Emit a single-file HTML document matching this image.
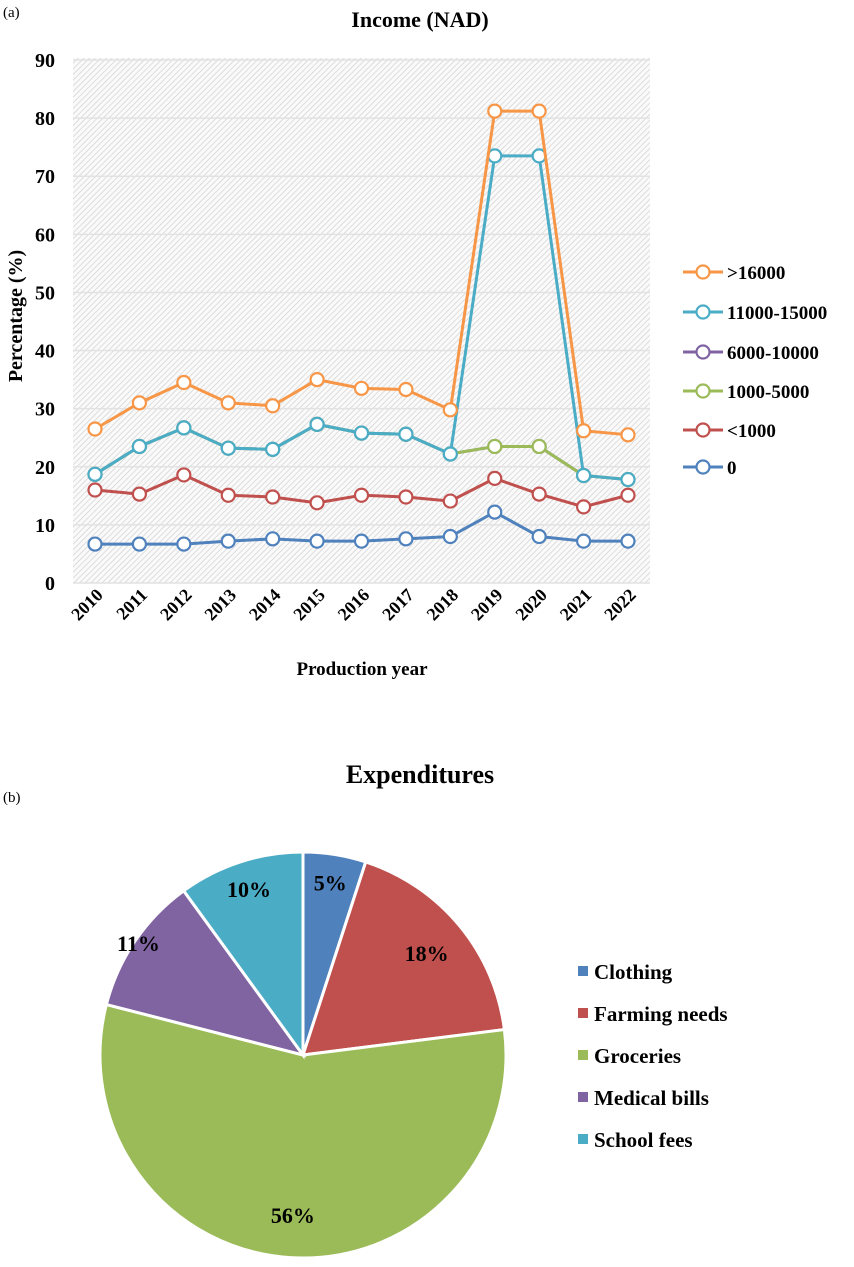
<!DOCTYPE html>
<html><head><meta charset="utf-8"><style>
body{margin:0;background:#fff;width:854px;height:1262px;overflow:hidden}
svg text{font-family:"Liberation Serif",serif;font-weight:bold;fill:#000}
</style></head><body>
<svg id="s" width="854" height="1262" xmlns="http://www.w3.org/2000/svg">
<defs><pattern id="hatch" width="4" height="4" patternUnits="userSpaceOnUse" patternTransform="rotate(45)"><rect width="4" height="4" fill="#fafafa"/><line x1="0" y1="0" x2="0" y2="4" stroke="#d0d0d0" stroke-width="1.4"/></pattern></defs>
<text x="3" y="17" font-size="15" style="font-weight:normal">(a)</text>
<text x="420" y="27" font-size="22" text-anchor="middle">Income (NAD)</text>
<rect x="73" y="58" width="577" height="525" fill="url(#hatch)"/>
<g id="grid"></g><g id="lines"></g><g id="xl"></g>
<text transform="translate(22,316) rotate(-90)" font-size="20" text-anchor="middle">Percentage (%)</text>
<text x="362" y="675" font-size="19" text-anchor="middle">Production year</text>
<g id="leg"></g>
<text x="3" y="802" font-size="15" style="font-weight:normal">(b)</text>
<text x="420" y="783" font-size="26" text-anchor="middle">Expenditures</text>
<g id="pie"></g><g id="pleg"></g>
</svg>
<script>
const years=["2010","2011","2012","2013","2014","2015","2016","2017","2018","2019","2020","2021","2022"];
const yTicks=[0,10,20,30,40,50,60,70,80,90];
const seriesNames=[">16000","11000-15000","6000-10000","1000-5000","<1000","0"];
const seriesColors=["#f79646","#4bacc6","#8064a2","#9bbb59","#c0504d","#4f81bd"];
const sGt16000=[26.5,31,34.5,31,30.5,35,33.5,33.3,29.8,81.2,81.2,26.2,25.5];
const s11000=[18.7,23.5,26.7,23.2,23,27.3,25.8,25.6,22.2,73.5,73.5,18.5,17.8];
const s6000=[18.7,23.5,26.7,23.2,23,27.3,25.8,25.6,22.2,23.5,23.5,18.5,17.8];
const s1000=[18.7,23.5,26.7,23.2,23,27.3,25.8,25.6,22.2,23.5,23.5,18.5,17.8];
const sLt1000=[16,15.3,18.6,15.1,14.8,13.8,15.1,14.8,14.1,18,15.3,13.1,15.1];
const sZero=[6.7,6.7,6.7,7.2,7.6,7.2,7.2,7.6,8,12.2,8,7.2,7.2];
const pieLabels=["Clothing","Farming needs","Groceries","Medical bills","School fees"];
const pieValues=[5,18,56,11,10];
const pieColors=["#4f81bd","#c0504d","#9bbb59","#8064a2","#4bacc6"];
const NS="http://www.w3.org/2000/svg";
function mk(t,a,p){const e=document.createElementNS(NS,t);for(const k in a)e.setAttribute(k,a[k]);p.appendChild(e);return e;}
const X=i=>95+i*(628-95)/(years.length-1);
const Y=v=>583-v*(583-60)/90;
const grid=document.getElementById('grid');
yTicks.forEach(t=>{
 const l=mk('line',{x1:73,x2:650,y1:Y(t),y2:Y(t),stroke:'#e2e2e2','stroke-width':1.5},grid);
 
 
 const tx=mk('text',{x:55,y:Y(t)+7,'font-size':20,'text-anchor':'end'},grid);tx.textContent=t;
 
 
});
const xl=document.getElementById('xl');
years.forEach((y,i)=>{
 const tx=mk('text',{transform:`translate(${X(i)+9},${596}) rotate(-45)`,'font-size':18,'text-anchor':'end'},xl);tx.textContent=y;
 
 
});
const data=[sGt16000,s11000,s6000,s1000,sLt1000,sZero];
const lines=document.getElementById('lines');
[5,4,2,3,1,0].forEach(k=>{
 const g=mk('g',{},lines);
 
 
 mk('polyline',{points:data[k].map((v,i)=>X(i)+','+Y(v)).join(' '),fill:'none',stroke:seriesColors[k],'stroke-width':3},g);
 data[k].forEach((v,i)=>{
  const c=mk('circle',{cx:X(i),cy:Y(v),r:6.5,fill:'#fff',stroke:seriesColors[k],'stroke-width':2.2},g);
  
  
 });
});
const leg=document.getElementById('leg');
const legY=[272,312,352,391,430,467];
seriesNames.forEach((n,k)=>{
 const g=mk('g',{},leg);
 
 
 mk('line',{x1:683,x2:723,y1:legY[k],y2:legY[k],stroke:seriesColors[k],'stroke-width':3},g);
 mk('circle',{cx:703,cy:legY[k],r:6.5,fill:'#fff',stroke:seriesColors[k],'stroke-width':2.2},g);
 const t=mk('text',{x:727,y:legY[k]+7,'font-size':19},g);t.textContent=n;
});
const pie=document.getElementById('pie');
const cx=303,cy=1055,R=203;
const labelR=[0.86,0.79,0.79,0.98,0.86];
const total=pieValues.reduce((a,b)=>a+b,0);
let acc=0;
pieValues.forEach((v,i)=>{
 const a0=acc/total*2*Math.PI;acc+=v;const a1=acc/total*2*Math.PI;
 const p=(a)=>[cx+R*Math.sin(a),cy-R*Math.cos(a)];
 const [x0,y0]=p(a0),[x1,y1]=p(a1);
 const path=mk('path',{d:`M${cx},${cy}L${x0},${y0}A${R},${R} 0 ${a1-a0>Math.PI?1:0} 1 ${x1},${y1}Z`,fill:pieColors[i],stroke:'#fff','stroke-width':3},pie);
 
 
 const am=(a0+a1)/2;const rr=labelR[i]*R;
 const t=mk('text',{x:cx+rr*Math.sin(am),y:cy-rr*Math.cos(am)+8,'font-size':22,'text-anchor':'middle'},pie);t.textContent=v+'%';
 
 
});
const pleg=document.getElementById('pleg');
pieLabels.forEach((n,i)=>{
 const y=972+i*42;
 const g=mk('g',{},pleg);
 
 
 mk('rect',{x:578,y:y-6,width:10,height:10,fill:pieColors[i]},g);
 const t=mk('text',{x:594,y:y+7,'font-size':21},g);t.textContent=n;
});
</script>
</body></html>
